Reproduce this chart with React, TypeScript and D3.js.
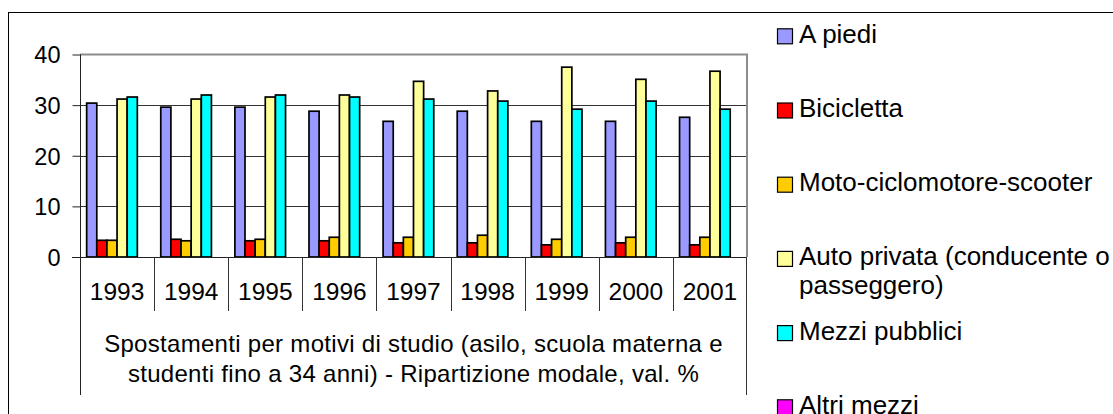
import * as d3 from "d3";
import { useEffect, useRef } from "react";

const years = ["1993", "1994", "1995", "1996", "1997", "1998", "1999", "2000", "2001"];
const seriesNames = [
  "A piedi",
  "Bicicletta",
  "Moto-ciclomotore-scooter",
  "Auto privata (conducente o passeggero)",
  "Mezzi pubblici",
  "Altri mezzi",
];
const legendLines = [
  ["A piedi"],
  ["Bicicletta"],
  ["Moto-ciclomotore-scooter"],
  ["Auto privata (conducente o", "passeggero)"],
  ["Mezzi pubblici"],
  ["Altri mezzi"],
];
const colors = ["#9999FF", "#FF0000", "#FFCC00", "#FFFF99", "#00FFFF", "#FF00FF"];

const aPiedi = [30.4, 29.6, 29.6, 28.8, 26.8, 28.8, 26.8, 26.8, 27.6];
const bicicletta = [3.3, 3.5, 3.2, 3.2, 2.8, 2.8, 2.4, 2.8, 2.4];
const moto = [3.3, 3.2, 3.5, 3.9, 3.9, 4.3, 3.5, 3.9, 3.9];
const autoPrivata = [31.2, 31.2, 31.6, 32.0, 34.7, 32.8, 37.5, 35.1, 36.7];
const mezziPubblici = [31.6, 32.0, 32.0, 31.6, 31.2, 30.8, 29.2, 30.8, 29.2];
const altriMezzi = [0, 0, 0, 0, 0, 0, 0, 0, 0];

const yTicks = [0, 10, 20, 30, 40];
const axisTitle = [
  "Spostamenti per motivi di studio (asilo, scuola materna e",
  "studenti fino a 34 anni) - Ripartizione modale, val. %",
];

const FONT = "'Liberation Sans', Arial, sans-serif";

const App = () => {
  const ref = useRef<SVGSVGElement>(null);

  useEffect(() => {
    const svg = d3.select(ref.current);
    svg.selectAll("*").remove();

    const values = [aPiedi, bicicletta, moto, autoPrivata, mezziPubblici, altriMezzi];
    const left = 80, right = 747, top = 54.5, bottom = 257;

    // outer chart frame
    svg.append("rect")
      .attr("x", 8.5).attr("y", 12.5)
      .attr("width", 1200).attr("height", 500)
      .attr("fill", "white").attr("stroke", "black").attr("stroke-width", 1);

    let x0 = d3.scaleBand().domain(years).range([left, right]);
    let x1 = d3.scaleBand().domain(seriesNames).range([0, x0.bandwidth()]).paddingOuter(0.657);
    let y = d3.scaleLinear().domain([0, 40]).range([bottom, top]);

    // gridlines
    svg.append("g")
      .selectAll("line")
      .data(yTicks.filter((t) => t > 0 && t < 40))
      .enter()
      .append("line")
      .attr("x1", left).attr("x2", right)
      .attr("y1", (d) => Math.round(y(d)) + 0.5).attr("y2", (d) => Math.round(y(d)) + 0.5)
      .attr("stroke", "#333").attr("stroke-width", 1);

    // plot area border top/right
    svg.append("path")
      .attr("d", `M${left},${y(40)}H${right}V${bottom}`)
      .attr("fill", "none").attr("stroke", "#8c8c8c").attr("stroke-width", 2);

    // bars
    let groups = svg.append("g")
      .selectAll("g")
      .data(years)
      .enter()
      .append("g")
      .attr("transform", (d) => "translate(" + x0(d) + ",0)");

    groups.selectAll("rect")
      .data((d, i) => seriesNames.map((s, j) => ({ s, v: values[j][i], c: colors[j] })))
      .enter()
      .filter((d) => d.v > 0)
      .append("rect")
      .attr("x", (d) => x1(d.s)!)
      .attr("y", (d) => y(d.v))
      .attr("width", x1.bandwidth())
      .attr("height", (d) => bottom - y(d.v))
      .attr("fill", (d) => d.c)
      .attr("stroke", "black")
      .attr("stroke-width", 1.7);

    // y axis
    let yAxis = svg.append("g")
      .attr("transform", "translate(" + (left + 0.5) + ",0)")
      .call(d3.axisLeft(y).tickValues(yTicks).tickSize(8).tickPadding(12).tickFormat(d3.format("d")));
    yAxis.select(".domain").attr("d", `M0,${y(40)}V395`).attr("stroke", "#222");
    yAxis.selectAll(".tick line").attr("stroke", "#222");
    yAxis.selectAll("text")
      .attr("font-family", FONT).attr("font-size", 23.5).attr("fill", "black").attr("dy", "0.36em");

    // x baseline and category table
    svg.append("line")
      .attr("x1", left - 8).attr("x2", right)
      .attr("y1", bottom + 0.5).attr("y2", bottom + 0.5)
      .attr("stroke", "#222");

    svg.append("g")
      .selectAll("line")
      .data(years.slice(1))
      .enter()
      .append("line")
      .attr("x1", (d) => Math.round(x0(d)!) + 0.5).attr("x2", (d) => Math.round(x0(d)!) + 0.5)
      .attr("y1", bottom).attr("y2", 311)
      .attr("stroke", "#333");

    svg.append("line")
      .attr("x1", right - 0.5).attr("x2", right - 0.5)
      .attr("y1", bottom).attr("y2", 395)
      .attr("stroke", "#333");

    svg.append("g")
      .selectAll("text")
      .data(years)
      .enter()
      .append("text")
      .attr("x", (d) => x0(d)! + x0.bandwidth() / 2)
      .attr("y", 300)
      .attr("text-anchor", "middle")
      .attr("font-family", FONT).attr("font-size", 24.5)
      .text((d) => d);

    svg.append("g")
      .selectAll("text")
      .data(axisTitle)
      .enter()
      .append("text")
      .attr("x", (left + right) / 2)
      .attr("y", (d, i) => 352 + i * 30)
      .attr("text-anchor", "middle")
      .attr("font-family", FONT).attr("font-size", 24)
      .attr("letter-spacing", 0.3)
      .text((d) => d);

    // legend
    let legend = svg.append("g")
      .selectAll("g")
      .data(seriesNames)
      .enter()
      .append("g")
      .attr("transform", (d, i) => "translate(777," + (36.3 + i * 74.2) + ")");

    legend.append("rect")
      .attr("x", 0.5).attr("y", -7.5)
      .attr("width", 15).attr("height", 15)
      .attr("fill", (d, i) => colors[i])
      .attr("stroke", "black").attr("stroke-width", 1.2);

    legend.each(function (d, i) {
      d3.select(this)
        .selectAll("text")
        .data(legendLines[i])
        .enter()
        .append("text")
        .attr("x", 22)
        .attr("y", (t, k) => 6.5 + k * 29)
        .attr("font-family", FONT).attr("font-size", 26)
        .text((t) => t);
    });
  }, []);

  return (
    <svg ref={ref} width={1113} height={414} style={{ position: "absolute", left: 0, top: 0, background: "white" }} />
  );
};

export default App;
